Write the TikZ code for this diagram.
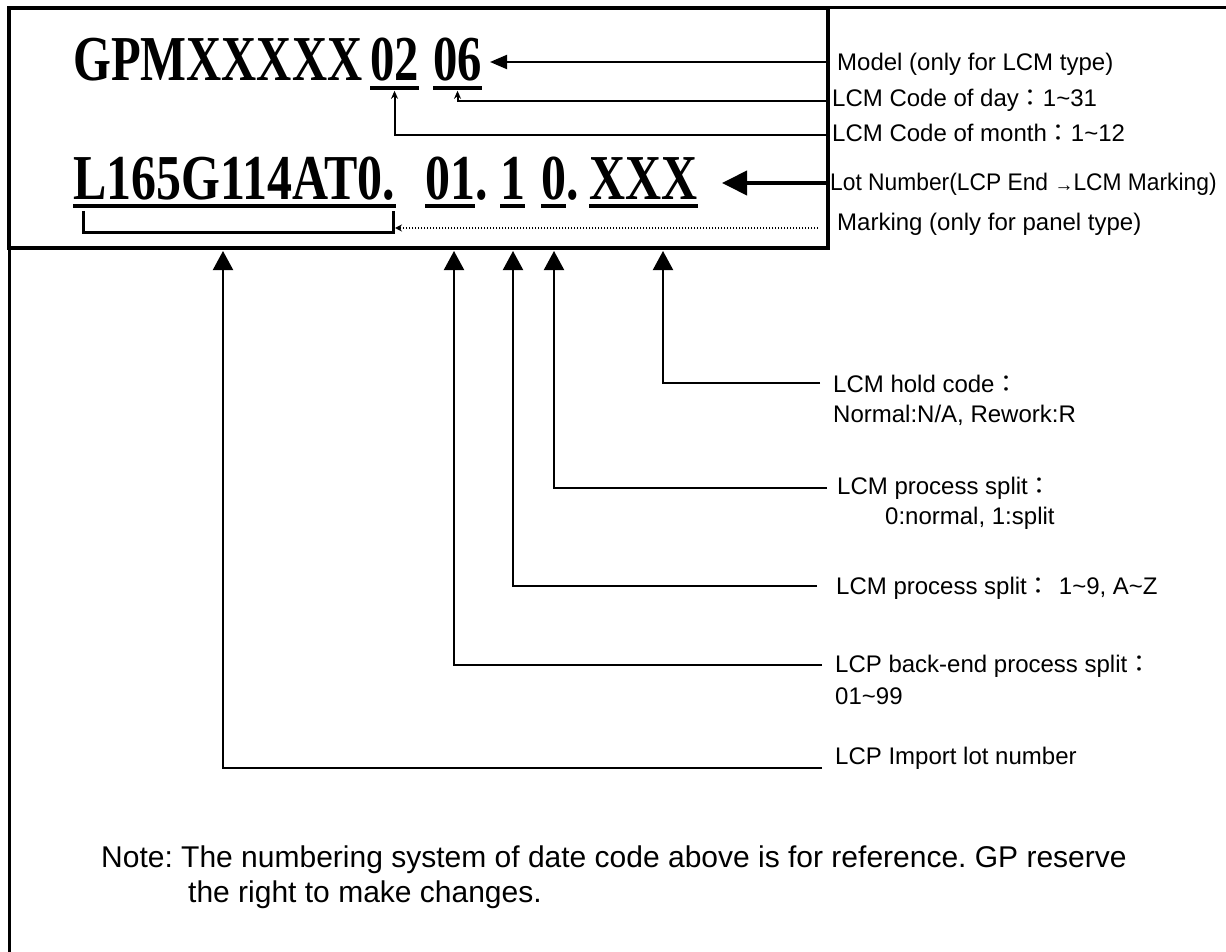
\documentclass[tikz,border=0pt]{standalone}
\usepackage{fontspec}
\setmainfont{Liberation Sans}
\newfontfamily\serfont{Liberation Serif}
\newfontfamily\cjkfont{Noto Sans CJK TC}
\usetikzlibrary{arrows.meta}
\newcommand{\fc}{{\cjkfont ：}}
\newcommand{\tl}{\textasciitilde}
\frenchspacing
\begin{document}
\begin{tikzpicture}[x=1pt,y=-1pt,
  lbl/.style={anchor=base west, inner sep=0pt, font=\fontsize{24}{28}\selectfont},
  note/.style={anchor=base west, inner sep=0pt, font=\fontsize{30}{34}\selectfont},
  big/.style={anchor=base west, inner sep=0pt, font=\fontsize{64}{64}\selectfont\serfont\bfseries},
  framel/.style={line width=3.5pt},
  uline/.style={line width=3.5pt},
  conn/.style={line width=2pt},
  bigtip/.style={-{Triangle[length=19pt,width=20pt]}},
  midtip/.style={-{Triangle[length=17pt,width=14pt]}},
  smalltip/.style={-{Stealth[length=8pt,width=7pt]}},
  dotline/.style={line width=2pt, dash pattern=on 1.5pt off 1.5pt},
 ]
\useasboundingbox (0,0) rectangle (1226,952);
% frames
\draw[line width=3pt] (1226,8) -- (9,8) -- (9,952);
\draw[framel] (9,8) rectangle (828,248);

% big codes, line 1
\node[big] (g1) at (73,81) {\scalebox{0.76}[1]{GPMXXXXX}};
\node[big] (g2) at (370,81) {\scalebox{0.76}[1]{02}};
\node[big] (g3) at (433,81) {\scalebox{0.76}[1]{06}};
\draw[uline] ([yshift=-7pt]g2.base west) -- ([yshift=-7pt]g2.base east);
\draw[uline] ([yshift=-7pt]g3.base west) -- ([yshift=-7pt]g3.base east);

% big codes, line 2
\node[big] (l1) at (73,200) {\scalebox{0.78}[1]{L165G114AT0.}};
\node[big] (l2) at (425,200) {\scalebox{0.78}[1]{01}};
\node[big] (l2d) at (l2.base east) {\scalebox{0.78}[1]{.}};
\node[big] (l3) at (500,200) {\scalebox{0.78}[1]{1}};
\node[big] (l4) at (541,200) {\scalebox{0.78}[1]{0}};
\node[big] (l4d) at (l4.base east) {\scalebox{0.78}[1]{.}};
\node[big] (l5) at (589,200) {\scalebox{0.78}[1]{XXX}};
\foreach \n in {l1,l2,l3,l4,l5}
  \draw[uline] ([yshift=-6pt]\n.base west) -- ([yshift=-6pt]\n.base east);

% bracket under lot prefix
\coordinate (brL) at (83,211);
\coordinate (brR) at (393,211);
\draw[line width=3pt] (brL) -- (83,233) -- (393,233) -- (brR);

% right labels
\node[lbl] (model) at (837,71) {Model (only for LCM type)};
\node[lbl] (day) at (832,107) {LCM Code of day\fc1\tl31};
\node[lbl] (month) at (832,142) {LCM Code of month\fc1\tl12};
\node[lbl] (lot) at (830,191) {\scalebox{0.95}[1]{Lot Number(LCP End {\fontsize{20}{20}\selectfont\raisebox{-1pt}{→}}LCM Marking)}};
\node[lbl] (mark) at (837,231) {Marking (only for panel type)};

\coordinate (mR) at (828,62);
\coordinate (mT) at (490,62);
\draw[conn,midtip] (mR) -- (mT);
\coordinate (dR) at (828,101);
\draw[conn,smalltip] (dR) -| ([yshift=-9pt]g3.south);
\coordinate (moR) at (828,135);
\draw[conn,smalltip] (moR) -| ([yshift=-9pt]g2.south);
\coordinate (lR) at (828,183);
\coordinate (lT) at (722,183);
\draw[line width=4pt,-{Triangle[length=25pt,width=24pt]}] (lR) -- (lT);
\coordinate (mkR) at (818,228);
\coordinate (mkT) at (395,228);
\draw[dotline,-{Stealth[length=7pt,width=7pt]}] (mkR) -- (mkT);

% bottom labels
\node[lbl] (hold) at (833,392) {LCM hold code\fc};
\node[lbl] (hold2) at (833,422) {Normal:N/A, Rework:R};
\node[lbl] (spl) at (837,494) {LCM process split\fc};
\node[lbl] (spl2) at (885,524) {0:normal, 1:split};
\node[lbl] (splb) at (836,594) {LCM process split\fc\hspace{8pt}1\tl9, A\tl Z};
\node[lbl] (back) at (835,672) {LCP back-end process split\fc};
\node[lbl] (back2) at (835,704) {01\tl99};
\node[lbl] (imp) at (835,764) {LCP Import lot number};

\coordinate (hE) at (820,383);
\coordinate (hT) at (663,251);
\coordinate (sE) at (827,488);
\coordinate (sT) at (554,251);
\coordinate (s2E) at (817,586);
\coordinate (s2T) at (513,251);
\coordinate (bE) at (822,665);
\coordinate (bT) at (454,251);
\coordinate (iE) at (822,768);
\coordinate (iT) at (223,251);
\foreach \e/\t in {hE/hT,sE/sT,s2E/s2T,bE/bT,iE/iT}
  \draw[conn,bigtip] (\e) -| (\t);

% note
\node[note] (note1) at (101,867) {Note: The numbering system of date code above is for reference. GP reserve};
\node[note] (note2) at (188,902) {the right to make changes.};
\end{tikzpicture}
\end{document}
